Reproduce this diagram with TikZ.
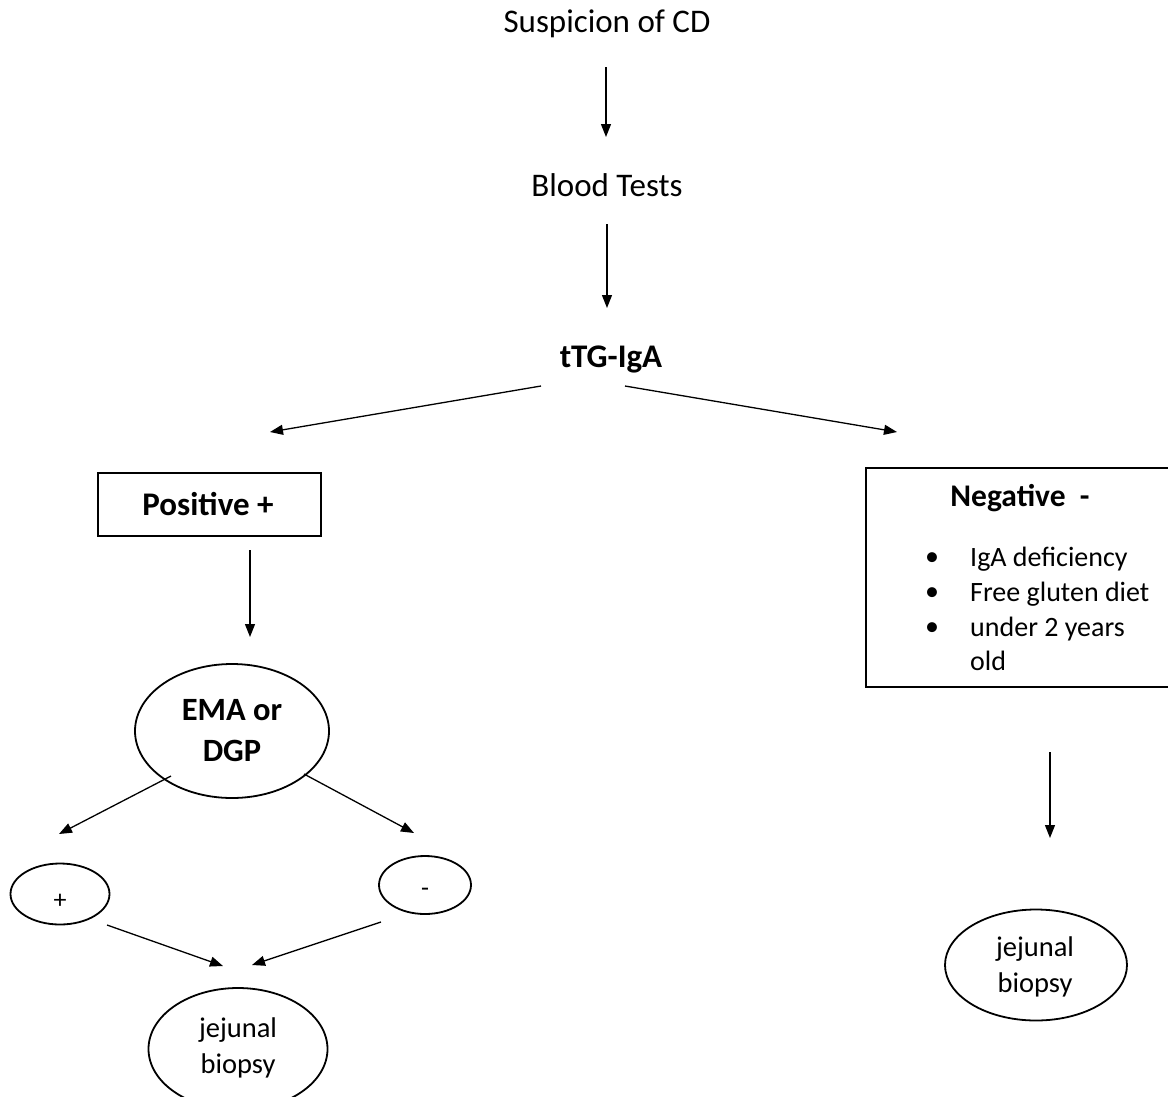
\documentclass[tikz,border=0pt]{standalone}
\usepackage{fontspec}
\setmainfont{Carlito}
\usetikzlibrary{arrows.meta,shapes.geometric}
\begin{document}
\begin{tikzpicture}[x=1pt,y=-1pt,
  arr/.style={line width=1.3pt,-{Triangle[length=13pt,width=10pt]}},
  lbl/.style={inner sep=0pt,font=\fontsize{33}{38}\selectfont},
  blbl/.style={inner sep=0pt,font=\fontsize{33}{38}\selectfont\bfseries},
  oval/.style={ellipse,draw,line width=1.8pt,inner sep=0pt},
  boxx/.style={draw,line width=1.8pt,inner sep=0pt},
  btxt/.style={inner sep=0pt,anchor=west,font=\fontsize{28}{32}\selectfont}]
\useasboundingbox (0,0) rectangle (1168,1096);
\clip (0,0) rectangle (1168,1096);
% main chain
\node[lbl] (susp) at (607,24) {Suspicion of CD};
\node[lbl] (blood) at (607,185) {Blood Tests};
\node[blbl] (ttg) at (611,359) {tTG-IgA};
% positive branch
\node[boxx,minimum width=223pt,minimum height=63pt] (pos) at (209.5,504.5) {};
\node[blbl] (postxt) at (208,504) {Positive +};
\node[oval,minimum width=194pt,minimum height=134pt,align=center,
  font=\fontsize{32.5}{41}\selectfont\bfseries] (ema) at (232,731) {EMA or\\DGP};
\node[oval,minimum width=99pt,minimum height=61pt] (plus) at (60,894) {};
\node[inner sep=0pt,font=\fontsize{26}{30}\selectfont] (plustxt) at (60,901) {+};
\node[oval,minimum width=92pt,minimum height=58pt] (minus) at (425,885) {};
\node[inner sep=0pt,font=\fontsize{26}{30}\selectfont] (minustxt) at (425,892) {-};
\node[oval,minimum width=179pt,minimum height=122pt] (bio1) at (238,1049) {};
\node[inner sep=0pt,align=center,font=\fontsize{28.5}{36}\selectfont] (bio1txt) at (238,1048) {jejunal\\biopsy};
% negative branch
\node[boxx,minimum width=308pt,minimum height=219pt] (neg) at (1020,577.5) {};
\node[inner sep=0pt,font=\fontsize{31.5}{36}\selectfont\bfseries] (negtxt) at (1020,498) {Negative\ \ -};
\node[btxt] (b1) at (925,559) {\textbullet};
\node[btxt] (b2) at (925,594) {\textbullet};
\node[btxt] (b3) at (925,629) {\textbullet};
\node[btxt] (t1) at (970,559) {IgA deficiency};
\node[btxt] (t2) at (970,594) {Free gluten diet};
\node[btxt] (t3) at (970,629) {under 2 years};
\node[btxt] (t4) at (970,661) {old};
\node[oval,minimum width=182pt,minimum height=111pt] (bio2) at (1036,965) {};
\node[inner sep=0pt,align=center,font=\fontsize{28.5}{36}\selectfont] (bio2txt) at (1035,967) {jejunal\\biopsy};
% arrow end points
\coordinate (a1s) at (606,67);   \coordinate (a1e) at (606,137);
\coordinate (a2s) at (607,224);  \coordinate (a2e) at (607,308);
\coordinate (a3s) at (541,386);  \coordinate (a3e) at (270,432);
\coordinate (a4s) at (625,386);  \coordinate (a4e) at (897,432);
\coordinate (a5s) at (250,550);  \coordinate (a5e) at (250,637);
\coordinate (a6s) at (171,776);  \coordinate (a6e) at (59,834);
\coordinate (a7s) at (304,774);  \coordinate (a7e) at (414,833);
\coordinate (a8s) at (107,925);  \coordinate (a8e) at (223,966);
\coordinate (a9s) at (381,922);  \coordinate (a9e) at (252,965);
\coordinate (a10s) at (1050,752); \coordinate (a10e) at (1050,838);
\draw[arr] (a1s) -- (a1e);
\draw[arr] (a2s) -- (a2e);
\draw[arr] (a3s) -- (a3e);
\draw[arr] (a4s) -- (a4e);
\draw[arr] (a5s) -- (a5e);
\draw[arr] (a6s) -- (a6e);
\draw[arr] (a7s) -- (a7e);
\draw[arr] (a8s) -- (a8e);
\draw[arr] (a9s) -- (a9e);
\draw[arr] (a10s) -- (a10e);
\end{tikzpicture}
\end{document}
